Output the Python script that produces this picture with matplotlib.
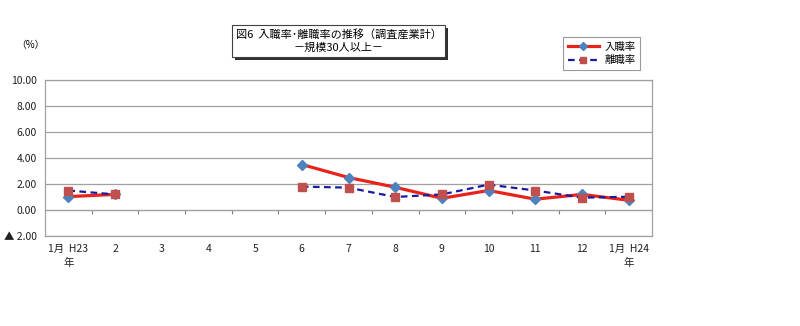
import numpy as np
import matplotlib
matplotlib.use("Agg")
import matplotlib.pyplot as plt
from matplotlib.patches import Rectangle

plt.rcParams['font.family'] = ['Noto Sans CJK JP', 'DejaVu Sans']

# data (%), March-May missing
months = ["1月  H23\n年", "2", "3", "4", "5", "6", "7", "8", "9", "10", "11", "12", "1月  H24\n年"]
entry_rate = [1.03, 1.2, np.nan, np.nan, np.nan, 3.5, 2.5, 1.75, 0.9, 1.5, 0.83, 1.2, 0.75]
exit_rate = [1.5, 1.2, np.nan, np.nan, np.nan, 1.8, 1.72, 1.0, 1.2, 1.95, 1.5, 0.95, 1.02]
yticks = [-2, 0, 2, 4, 6, 8, 10]
ylabels = ["▲ 2.00", "0.00", "2.00", "4.00", "6.00", "8.00", "10.00"]

fig = plt.figure(figsize=(8, 3.26), dpi=100)
ax = fig.add_axes([45/800, 1-236/326, (652-45)/800, (236-80)/326])

x = np.arange(len(months))
ax.plot(x, entry_rate, color='#e8231c', lw=2.3, marker='D', ms=5,
        mfc='#4f81bd', mec='#4f81bd', label='入職率', zorder=3)
ax.plot(x, exit_rate, color='#1a1aa0', lw=1.6, ls=(0, (3, 2)), marker='s', ms=6,
        mfc='#c0504d', mec='#c0504d', label='離職率', zorder=3)

ax.set_xlim(-0.5, len(months) - 0.5)
ax.set_ylim(-2, 10)
ax.set_yticks(yticks)
ax.set_yticklabels(ylabels, fontsize=7.5)
ax.set_xticks(x)
ax.set_xticklabels(months, fontsize=7.5, linespacing=1.5, va='top')
ax.tick_params(axis='both', length=0, pad=6, labelcolor='#202020')
ax.grid(axis='y', color='#a0a0a0', lw=0.9)
for s in ax.spines.values():
    s.set_color('#a0a0a0')
    s.set_linewidth(0.9)

# zero axis with category ticks
sec = ax.secondary_xaxis(2/12)
sec.set_xticks(np.arange(0.5, len(months) - 1, 1))
sec.set_xticklabels([])
sec.tick_params(direction='out', length=3, color='#808080')
sec.spines['bottom'].set_color('#909090')

fig.text(30/800, 1-45/326, '（%）', fontsize=7, ha='center', va='center')

# title box with shadow
fig.patches.append(Rectangle((235/800, 1-60/326), 213/800, 32/326, transform=fig.transFigure,
                             facecolor='#303030', edgecolor='none', zorder=1))
fig.patches.append(Rectangle((232/800, 1-57/326), 213/800, 32/326, transform=fig.transFigure,
                             facecolor='white', edgecolor='#404040', lw=0.8, zorder=2))
fig.text(339/800, 1-34/326, '図6  入職率･離職率の推移（調査産業計）', fontsize=8, ha='center', va='center', zorder=3)
fig.text(339/800, 1-48/326, '－規模30人以上－', fontsize=8, ha='center', va='center', zorder=3)

leg = fig.legend(loc='upper left', bbox_to_anchor=(563/800, 1-37/326), fontsize=7.5,
                 frameon=True, fancybox=False, edgecolor='#808080', handlelength=3,
                 borderpad=0.45, labelspacing=0.35, handletextpad=0.5, borderaxespad=0,
                 markerscale=0.8)
leg.get_frame().set_linewidth(0.8)

fig.savefig('out.png', dpi=100)
